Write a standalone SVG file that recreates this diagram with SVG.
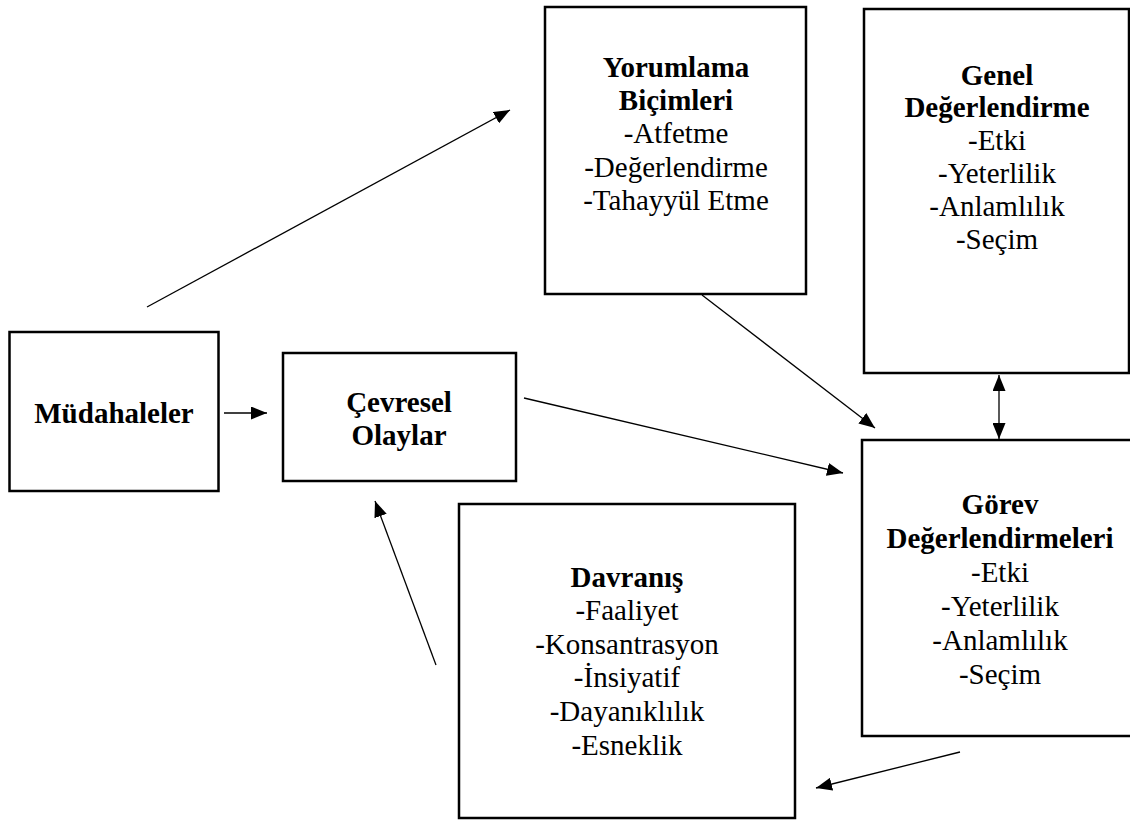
<svg xmlns="http://www.w3.org/2000/svg" width="1130" height="823" viewBox="0 0 1130 823">
<style>
.box{fill:#fff;stroke:#000;stroke-width:2.5}
.t{font-family:"Liberation Serif","Times New Roman",serif;font-size:29px;fill:#000;text-anchor:middle}
.b{font-weight:bold}
.c{stroke:#000;stroke-width:1.3;fill:none}
</style>
<defs>
<marker id="ah" markerUnits="userSpaceOnUse" markerWidth="17" markerHeight="13" refX="16" refY="6.5" orient="auto-start-reverse" viewBox="0 0 17 13">
<path d="M0,0 L16,6.5 L0,13 z" fill="#000"/>
</marker>
</defs>
<rect width="1130" height="823" fill="#fff"/>
<g id="mudahaleler">
<rect class="box" x="9.5" y="332" width="209" height="159"/>
<text class="t b" x="114" y="423">Müdahaleler</text>
</g>
<g id="cevresel">
<rect class="box" x="283" y="353" width="233" height="128"/>
<text class="t b" x="399" y="412">Çevresel</text>
<text class="t b" x="399" y="445">Olaylar</text>
</g>
<g id="yorumlama">
<rect class="box" x="545" y="7" width="261" height="287"/>
<text class="t b" x="676" y="77">Yorumlama</text>
<text class="t b" x="676" y="110">Biçimleri</text>
<text class="t" x="676" y="143">-Atfetme</text>
<text class="t" x="676" y="177">-Değerlendirme</text>
<text class="t" x="676" y="210">-Tahayyül Etme</text>
</g>
<g id="genel">
<rect class="box" x="864" y="9" width="265" height="364"/>
<text class="t b" x="997" y="85">Genel</text>
<text class="t b" x="997" y="117">Değerlendirme</text>
<text class="t" x="997" y="150">-Etki</text>
<text class="t" x="997" y="183">-Yeterlilik</text>
<text class="t" x="997" y="216">-Anlamlılık</text>
<text class="t" x="997" y="249">-Seçim</text>
</g>
<g id="gorev">
<rect class="box" x="862" y="440" width="290" height="296"/>
<text class="t b" x="1000" y="514">Görev</text>
<text class="t b" x="1000" y="548">Değerlendirmeleri</text>
<text class="t" x="1000" y="582">-Etki</text>
<text class="t" x="1000" y="616">-Yeterlilik</text>
<text class="t" x="1000" y="650">-Anlamlılık</text>
<text class="t" x="1000" y="684">-Seçim</text>
</g>
<g id="davranis">
<rect class="box" x="459" y="504" width="336" height="314"/>
<text class="t b" x="627" y="587">Davranış</text>
<text class="t" x="627" y="620">-Faaliyet</text>
<text class="t" x="627" y="654">-Konsantrasyon</text>
<text class="t" x="627" y="687">-İnsiyatif</text>
<text class="t" x="627" y="721">-Dayanıklılık</text>
<text class="t" x="627" y="755">-Esneklik</text>
</g>
<g id="connectors">
<line class="c" x1="224" y1="413" x2="267" y2="413" marker-end="url(#ah)"/>
<line class="c" x1="147" y1="307" x2="510" y2="110" marker-end="url(#ah)"/>
<line class="c" x1="702" y1="295" x2="875" y2="428" marker-end="url(#ah)"/>
<line class="c" x1="524" y1="398" x2="843" y2="473" marker-end="url(#ah)"/>
<line class="c" x1="999" y1="375" x2="999" y2="439" marker-start="url(#ah)" marker-end="url(#ah)"/>
<line class="c" x1="960" y1="752" x2="816" y2="788" marker-end="url(#ah)"/>
<line class="c" x1="436" y1="665" x2="375" y2="501" marker-end="url(#ah)"/>
</g>
</svg>
